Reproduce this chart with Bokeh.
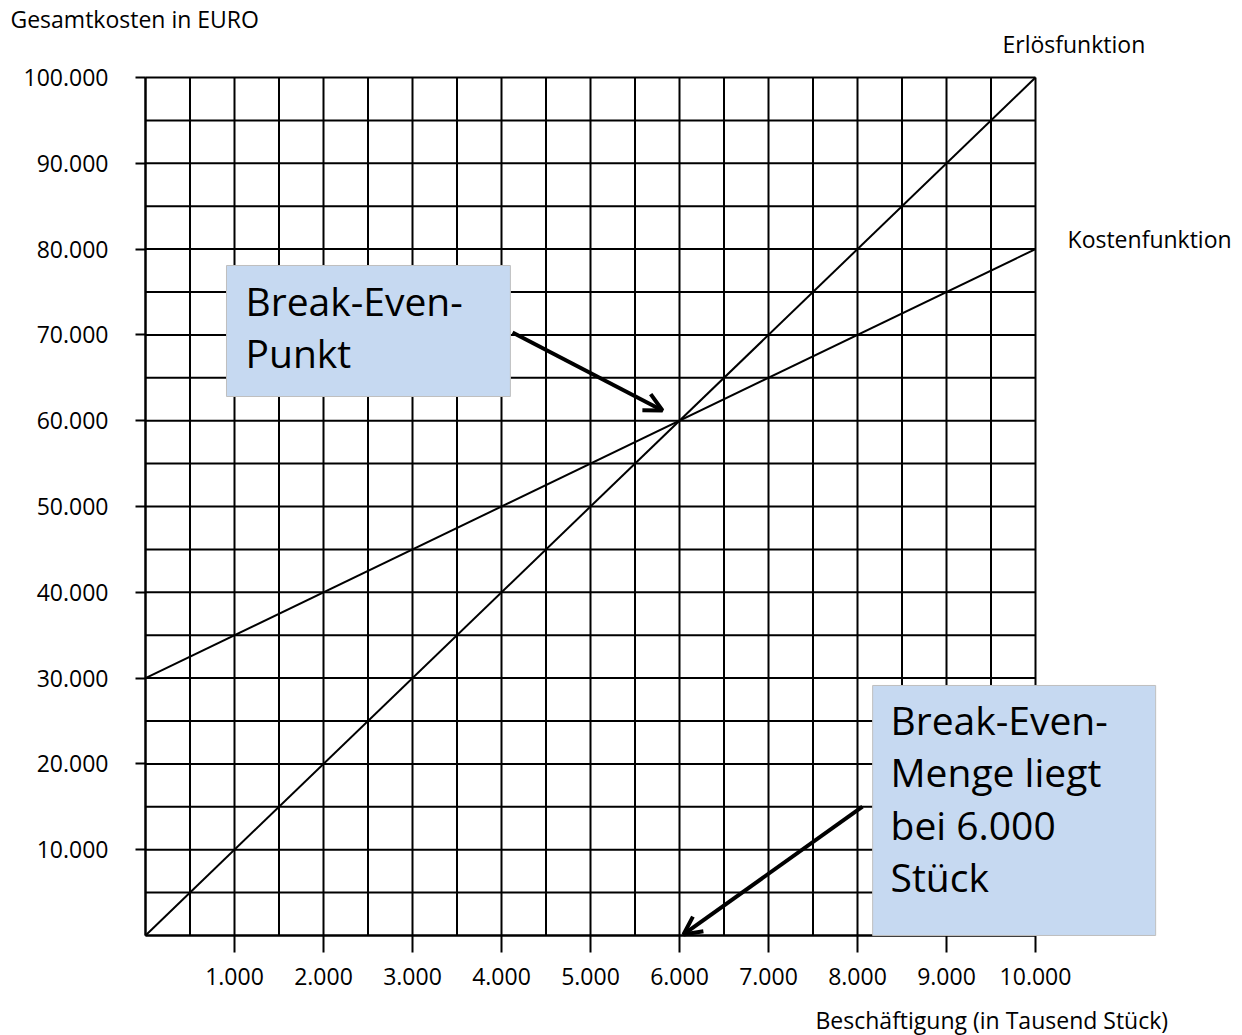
from bokeh.plotting import figure
from bokeh.models import Range1d, FixedTicker, Label, BoxAnnotation, Arrow, OpenHead
from bokeh.embed import file_html
from bokeh.resources import INLINE

# ---- data ----
menge = [0, 10]                 # Beschäftigung in Tausend Stück
erloes = [0, 100000]            # Erlösfunktion
kosten = [30000, 80000]         # Kostenfunktion

x_ticks = [1, 2, 3, 4, 5, 6, 7, 8, 9, 10]
x_tick_labels = ["1.000", "2.000", "3.000", "4.000", "5.000",
                 "6.000", "7.000", "8.000", "9.000", "10.000"]
y_ticks = [10000, 20000, 30000, 40000, 50000, 60000, 70000, 80000, 90000, 100000]
y_tick_labels = ["10.000", "20.000", "30.000", "40.000", "50.000",
                 "60.000", "70.000", "80.000", "90.000", "100.000"]
x_grid = [0, 0.5, 1, 1.5, 2, 2.5, 3, 3.5, 4, 4.5, 5, 5.5, 6, 6.5, 7, 7.5,
          8, 8.5, 9, 9.5, 10]
y_grid = [0, 5000, 10000, 15000, 20000, 25000, 30000, 35000, 40000, 45000,
          50000, 55000, 60000, 65000, 70000, 75000, 80000, 85000, 90000,
          95000, 100000]

FONT = "Open Sans"
X_MIN, X_MAX = 0, 10
Y_MIN, Y_MAX = 0, 100000

p = figure(width=1242, height=1035,
           x_range=Range1d(-1.6292, 12.3258), y_range=Range1d(-11655, 108974),
           min_border=0, output_backend="svg", toolbar_location=None, title=None)
p.background_fill_color = "white"
p.border_fill_color = "white"
p.outline_line_color = None
p.xgrid.visible = False
p.ygrid.visible = False

# grid (drawn from the grid arrays)
p.segment(x0=x_grid, y0=[Y_MIN] * len(x_grid), x1=x_grid, y1=[Y_MAX] * len(x_grid),
          line_color="black", line_width=2)
p.segment(x0=[X_MIN] * len(y_grid), y0=y_grid, x1=[X_MAX] * len(y_grid), y1=y_grid,
          line_color="black", line_width=2)

# axes placed at the origin
p.xaxis.fixed_location = 0
p.yaxis.fixed_location = 0
p.xaxis.bounds = (X_MIN, X_MAX)
p.yaxis.bounds = (Y_MIN, Y_MAX)
p.xaxis.ticker = FixedTicker(ticks=x_ticks)
p.xaxis.major_label_overrides = dict(zip(x_ticks, x_tick_labels))
p.yaxis.ticker = FixedTicker(ticks=y_ticks)
p.yaxis.major_label_overrides = dict(zip(y_ticks, y_tick_labels))
for ax in (p.xaxis, p.yaxis):
    ax.axis_line_color = "black"
    ax.axis_line_width = 2
    ax.major_tick_line_color = "black"
    ax.major_tick_line_width = 2
    ax.major_tick_in = 0
    ax.minor_tick_line_color = None
    ax.major_label_text_font = FONT
    ax.major_label_text_font_size = "23px"
    ax.major_label_text_color = "black"
p.xaxis.major_tick_out = 17
p.xaxis.major_label_standoff = 16
p.yaxis.major_tick_out = 10
p.yaxis.major_label_standoff = 27

# functions
p.line(menge, erloes, line_color="black", line_width=2)
p.line(menge, kosten, line_color="black", line_width=2)

# annotation boxes
box_fill = "#c6d9f1"
p.add_layout(BoxAnnotation(left=0.91, right=4.10, bottom=62820, top=78090,
                           fill_color=box_fill, fill_alpha=1,
                           line_color="#bfbfbf", line_width=1, line_alpha=1))
p.add_layout(BoxAnnotation(left=8.17, right=11.35, bottom=0, top=29140,
                           fill_color=box_fill, fill_alpha=1,
                           line_color="#bfbfbf", line_width=1, line_alpha=1))

# arrows
p.add_layout(Arrow(end=OpenHead(size=18, line_width=4, line_color="black"),
                   x_start=4.124, y_start=70280, x_end=5.809, y_end=61190,
                   line_width=4, line_color="black"))
p.add_layout(Arrow(end=OpenHead(size=18, line_width=4, line_color="black"),
                   x_start=8.056, y_start=15030, x_end=6.045, y_end=120,
                   line_width=4, line_color="black"))

def lab(x, y, text, size):
    p.add_layout(Label(x=x, y=y, text=text, text_font=FONT, text_font_size=size,
                       text_color="black", text_baseline="alphabetic", text_align="left"))

# box texts
lab(1.124, 74010, "Break-Even-", "39px")
lab(1.124, 67950, "Punkt", "39px")
lab(8.371, 25170, "Break-Even-", "39px")
lab(8.371, 19110, "Menge liegt", "39px")
lab(8.371, 12940, "bei 6.000", "39px")
lab(8.371, 6870, "Stück", "39px")

# outer labels
lab(-1.517, 106850, "Gesamtkosten  in EURO", "23px")
lab(9.629, 103850, "Erlösfunktion", "23px")
lab(10.36, 81120, "Kostenfunktion", "23px")
lab(7.528, -9800, "Beschäftigung (in Tausend Stück)", "23px")

open("out.html", "w").write(file_html(p, INLINE))
